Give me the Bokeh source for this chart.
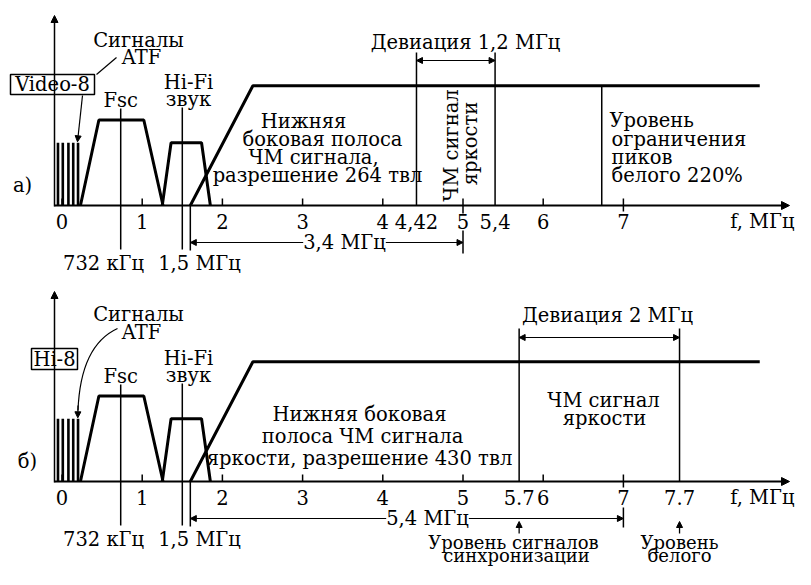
from bokeh.plotting import figure
from bokeh.models import Range1d, Arrow, NormalHead, Label
from bokeh.embed import file_html
from bokeh.resources import INLINE
from bokeh.core.properties import value

# ---------------- data (frequencies in MHz, levels relative to axis height) ----------------
tick_values = [0, 1, 2, 3, 4, 5, 6, 7]
tick_labels = ["0", "1", "2", "3", "4", "5", "6", "7"]

atf_f = [-0.05, 0.01, 0.08, 0.14, 0.20]
atf_level = 0.33
fsc_f = [0.23, 0.46, 1.02, 1.26]
fsc_level = [0.0, 0.45, 0.45, 0.0]
hifi_f = [1.25, 1.36, 1.74, 1.85]
hifi_level = [0.0, 0.33, 0.33, 0.0]
lum_f = [1.6, 2.38, 8.7]
lum_level = [0.0, 0.63, 0.63]
fsc_mark = 0.732
hifi_mark = 1.5
sideband_start = 1.6

# Video-8 (a)
v8_sync, v8_white, v8_clip = 4.42, 5.4, 6.73
v8_extra_ticks = [4.42, 5.4]
v8_extra_labels = ["4,42", "5,4"]
v8_span_end = 5.0

# Hi-8 (b)
h8_sync, h8_white = 5.7, 7.7
h8_extra_ticks = [5.7, 7.7]
h8_extra_labels = ["5.7", "7.7"]
h8_span_end = 7.0

# ---------------- layout ----------------
FONT = "DejaVu Serif"
FS = "19.5px"
FS_SMALL = "18px"
X0, XS = 61.5, 80.2          # pixel position of 0 MHz and pixels per MHz
W, H = 795, 569
LEVEL_PX = 190               # pixel height of relative level 1.0
B1, B2 = 205, 481            # baselines of the two panels


def fx(px):
    return (px - X0) / XS


p = figure(width=W, height=H, x_range=Range1d(fx(0), fx(W)), y_range=Range1d(H, 0),
           output_backend="svg", toolbar_location=None, min_border=0,
           x_axis_type=None, y_axis_type=None, outline_line_color=None)
p.background_fill_color = "white"
p.border_fill_color = "white"


def txt(x, y, s, align="center", angle=0.0, baseline="middle", size=FS):
    p.text(x=[x], y=[y], text=[s], text_font=value(FONT), text_font_size=size,
           text_align=align, text_baseline=baseline, angle=angle, text_color="black")


def lab(x, y, s):
    p.add_layout(Label(x=x, y=y, text=s, text_font=FONT, text_font_size=FS,
                       text_align="center", text_baseline="middle",
                       background_fill_color="white", text_color="black"))


def arrow(x0, y0, x1, y1, start=False, size=7, lw=1.3):
    head = dict(size=size, fill_color="black", line_color="black", line_width=1)
    p.add_layout(Arrow(x_start=x0, y_start=y0, x_end=x1, y_end=y1,
                       end=NormalHead(**head), start=NormalHead(**head) if start else None,
                       line_color="black", line_width=lw))


def vline(x, y0, y1, lw=1.5):
    p.segment(x0=[x], x1=[x], y0=[y0], y1=[y1], line_color="black", line_width=lw)


def lvl(B, levels):
    return [B - l * LEVEL_PX for l in levels]


def common(B, tick_down):
    # axes
    arrow(fx(54), B + 1, fx(54), B - LEVEL_PX, size=7, lw=1.5)
    arrow(fx(54), B, fx(789), B, size=8, lw=2)
    # ticks
    for t in tick_values:
        vline(t, B - 7, B + tick_down.get(t, 0), lw=1.5)
    p.text(x=tick_values, y=[B + 16] * len(tick_values), text=tick_labels,
           text_font=value(FONT), text_font_size=FS, text_align="center",
           text_baseline="middle", text_color="black")
    txt(fx(794), B + 16, "f, МГц", align="right")
    # ATF bars
    p.segment(x0=atf_f, x1=atf_f, y0=[B] * len(atf_f), y1=[B - atf_level * LEVEL_PX] * len(atf_f),
              line_color="black", line_width=2.6, line_cap="butt")
    # spectra
    p.line(fsc_f, lvl(B, fsc_level), line_color="black", line_width=3)
    p.line(hifi_f, lvl(B, hifi_level), line_color="black", line_width=3)
    p.line(lum_f, lvl(B, lum_level), line_color="black", line_width=3)
    # marker lines
    vline(fsc_mark, B - 97, B + 44)
    vline(hifi_mark, B - 98, B + 44)
    vline(sideband_start, B, B + 45)
    txt(fx(103), B + 58, "732 кГц")
    txt(fx(199), B + 58, "1,5 МГц")
    txt(fsc_mark, B - 105, "Fsc")
    txt(fx(188), B - 123, "Hi-Fi")
    txt(fx(188), B - 106, "звук")


# ================= panel a) Video-8 =================
B = B1
common(B, {5: 8, 7: 6})
p.text(x=v8_extra_ticks, y=[B + 16] * 2, text=v8_extra_labels, text_font=value(FONT),
       text_font_size=FS, text_align="center", text_baseline="middle", text_color="black")
txt(fx(138), 40, "Сигналы")
txt(fx(141), 57, "ATF")
p.segment(x0=[fx(116)], y0=[57], x1=[fx(96)], y1=[74], line_color="black", line_width=1.2)
p.quad(left=[fx(10)], right=[fx(94)], top=[74], bottom=[94], fill_color="white",
       line_color="black", line_width=1.5)
txt(fx(52), 84, "Video-8")
arrow(fx(82), 95, fx(77), B - atf_level * LEVEL_PX - 1, size=6, lw=1.2)
txt(fx(22), 185, "а)")
# lower sideband text
txt(fx(303), 121, "Нижняя")
txt(fx(322), 139, "боковая полоса")
txt(fx(313), 157, "ЧМ сигнала,")
txt(fx(317), 175, "разрешение 264 твл")
# deviation
vline(v8_sync, 52, B)
vline(v8_white, 52, B)
arrow(v8_sync, 60, v8_white, 60, start=True, size=6, lw=1.2)
txt(fx(465), 42, "Девиация 1,2 МГц")
txt(fx(451), 145, "ЧМ сигнал", angle=1.5708)
txt(fx(470), 143, "яркости", angle=1.5708)
# peak clip level
vline(v8_clip, B - lum_level[1] * LEVEL_PX, B)
txt(fx(609), 120, "Уровень", align="left")
txt(fx(611), 139, "ограничения", align="left")
txt(fx(611), 157, "пиков", align="left")
txt(fx(611), 175, "белого 220%", align="left")
# span arrow
vline(v8_span_end, B + 25, B + 48)
arrow(sideband_start, B + 37, v8_span_end, B + 37, start=True, size=6, lw=1.2)
lab(fx(344), B + 37, "3,4 МГц")

# ================= panel b) Hi-8 =================
B = B2
common(B, {7: 6})
p.text(x=h8_extra_ticks, y=[B + 16] * 2, text=h8_extra_labels, text_font=value(FONT),
       text_font_size=FS, text_align="center", text_baseline="middle", text_color="black")
txt(fx(138), 314, "Сигналы")
txt(fx(141), 332, "ATF")
p.quadratic(x0=[fx(117)], y0=[328], x1=[fx(77.5)], y1=[410], cx=[fx(80)], cy=[345],
            line_color="black", line_width=1.2)
arrow(fx(77.5), 405, fx(77.3), B - atf_level * LEVEL_PX - 1, size=6, lw=1.2)
p.quad(left=[fx(31)], right=[fx(77)], top=[348], bottom=[369], fill_color="white",
       line_color="black", line_width=1.5)
txt(fx(54), 358.5, "Hi-8")
txt(fx(27), 461, "б)")
txt(fx(359), 414, "Нижняя боковая")
txt(fx(362), 436, "полоса ЧМ сигнала")
txt(fx(359), 458, "яркости, разрешение 430 твл")
# deviation
vline(h8_sync, 328, B)
vline(h8_white, 328, B)
arrow(h8_sync, 337, h8_white, 337, start=True, size=6, lw=1.2)
txt(fx(607), 315, "Девиация 2 МГц")
txt(fx(603), 400, "ЧМ сигнал")
txt(fx(604), 418, "яркости")
# span arrow
vline(h8_span_end, B + 26, B + 46)
arrow(sideband_start, B + 37, h8_span_end, B + 37, start=True, size=6, lw=1.2)
lab(fx(427), B + 37, "5,4 МГц")
# level arrows
arrow(h8_sync, 533, h8_sync, 521, size=6, lw=1.3)
arrow(h8_white, 533, h8_white, 521, size=6, lw=1.3)
txt(fx(513), 542, "Уровень сигналов", size=FS_SMALL)
txt(fx(516), 555, "синхронизации", size=FS_SMALL)
txt(h8_white, 542, "Уровень", size=FS_SMALL)
txt(h8_white, 555, "белого", size=FS_SMALL)

open("out.html", "w").write(file_html(p, INLINE))
